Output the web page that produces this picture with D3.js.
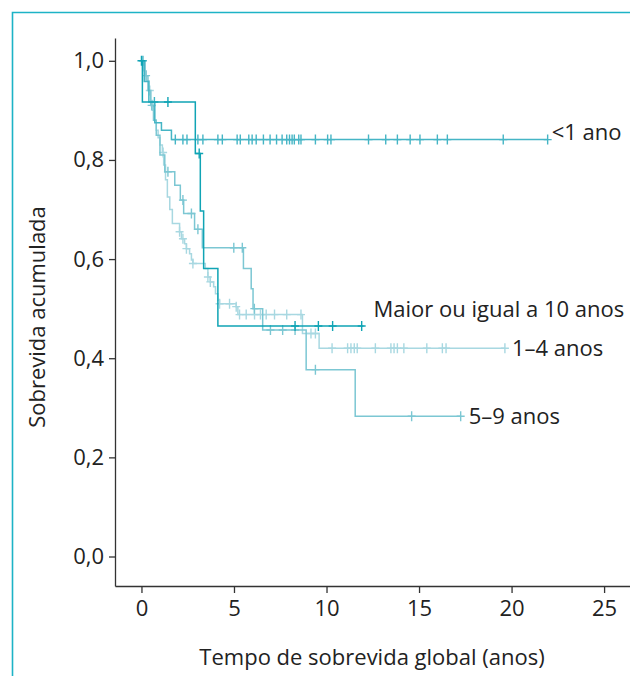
<!DOCTYPE html>
<html>
<head>
<meta charset="utf-8">
<script src="https://cdn.jsdelivr.net/npm/d3@7"></script>
<style>
    body { margin: 0; background: #fff; }
    text { font-family: "Open Sans", sans-serif; fill: #222; }
</style>
</head>
<body>
<div id="chart"></div>
<script>
// Kaplan-Meier steps: time (anos) and survival after each step
const lt1Times = [0, 0.15, 0.4, 0.72, 1.08, 1.62, 21.95];
const lt1Surv = [1.0, 0.958, 0.917, 0.875, 0.86, 0.841, 0.841];
const lt1Censor = [0.08, 0.7, 1.83, 2.24, 2.46, 3.05, 3.32, 4.13, 4.37, 5.17, 5.34, 5.8, 5.98, 6.2, 6.59,
    6.95, 7.3, 7.6, 7.85, 8.0, 8.14, 8.26, 8.5, 8.62, 9.4, 10.06, 10.24, 12.27, 13.2, 13.83, 14.52,
    15.05, 15.99, 16.53, 19.55, 21.95];

const ge10Times = [0, 0.05, 2.91, 3.18, 3.36, 4.13, 12.0];
const ge10Surv = [1.0, 0.917, 0.813, 0.697, 0.581, 0.465, 0.465];
const ge10Censor = [0.0, 1.43, 3.12, 8.3, 9.56, 10.33, 11.9];

const g14Times = [0, 0.1, 0.25, 0.4, 0.5, 0.6, 0.7, 0.8, 0.9, 1.0, 1.13, 1.2, 1.3, 1.4, 1.53, 1.67,
    2.06, 2.16, 2.33, 2.43, 2.6, 2.7, 2.78, 3.45, 3.59, 3.72, 3.9, 4.0, 4.13, 4.22, 5.12, 5.21,
    8.7, 9.6, 19.64];
const g14Surv = [1.0, 0.98, 0.96, 0.94, 0.92, 0.9, 0.88, 0.86, 0.845, 0.83, 0.815, 0.79, 0.76, 0.725,
    0.7, 0.672, 0.655, 0.641, 0.631, 0.621, 0.611, 0.598, 0.591, 0.581, 0.564, 0.554, 0.544, 0.53,
    0.517, 0.51, 0.504, 0.488, 0.45, 0.42, 0.42];
const g14Censor = [0.45, 1.17, 2.06, 2.24, 2.43, 2.78, 3.59, 3.72, 4.22, 4.76, 5.12, 5.3, 5.66, 6.11,
    6.43, 6.74, 7.19, 7.85, 8.62, 9.16, 9.4, 10.3, 11.14, 11.32, 11.5, 11.66, 12.64, 13.48, 13.65,
    13.83, 14.18, 15.42, 16.26, 16.46, 19.64];

const g59Times = [0, 0.2, 0.35, 0.5, 0.65, 0.8, 1.0, 1.26, 1.8, 2.1, 2.28, 2.87, 3.29, 5.51, 5.93,
    6.03, 6.55, 8.9, 11.55, 17.25];
const g59Surv = [1.0, 0.97, 0.94, 0.91, 0.88, 0.85, 0.81, 0.776, 0.749, 0.719, 0.692, 0.66, 0.623,
    0.581, 0.54, 0.5, 0.457, 0.377, 0.283, 0.283];
const g59Censor = [0.25, 0.55, 1.43, 2.24, 2.7, 3.05, 4.99, 5.45, 6.1, 6.97, 7.63, 8.3, 9.4, 14.6, 17.25];

const xTicks = [0, 5, 10, 15, 20, 25];
const yTicks = [0, 0.2, 0.4, 0.6, 0.8, 1.0];

const groups = [
    { name: "1–4 anos", times: g14Times, surv: g14Surv, censor: g14Censor, color: "#a8d8e1", dx: 7, dy: 0 },
    { name: "5–9 anos", times: g59Times, surv: g59Surv, censor: g59Censor, color: "#7cc7d3", dx: 8, dy: 0 },
    { name: "<1 ano", times: lt1Times, surv: lt1Surv, censor: lt1Censor, color: "#45b5c5", dx: 4, dy: -7 },
    { name: "Maior ou igual a 10 anos", times: ge10Times, surv: ge10Surv, censor: ge10Censor, color: "#10a4b5", dx: 10, dy: -17 }
];

const width = 630;
const height = 676;
const fontSize = 22;

const x = d3.scaleLinear()
    .domain([-1.43, 26.4])
    .range([115, 630]);

const y = d3.scaleLinear()
    .domain([-0.0595, 1.046])
    .range([586, 38]);

const svg = d3.create("svg")
    .attr("width", width)
    .attr("height", height)
    .attr("viewBox", [0, 0, width, height]);

d3.select("#chart").append(() => svg.node());

// teal frame
svg.append("path")
    .attr("d", "M12.5,676V12.5H630")
    .attr("fill", "none")
    .attr("stroke", "#1db3c6")
    .attr("stroke-width", 1.6);

const xAxis = g => g
    .attr("transform", `translate(0,${y.range()[0]})`)
    .call(d3.axisBottom(x).tickValues(xTicks).tickSize(7).tickSizeOuter(0).tickPadding(7))
    .call(g => g.selectAll("text").attr("font-size", fontSize).attr("font-family", "Open Sans"));

const yAxis = g => g
    .attr("transform", `translate(${x.range()[0]},0)`)
    .call(d3.axisLeft(y).tickValues(yTicks).tickSize(6).tickSizeOuter(0).tickPadding(5)
        .tickFormat(d => d3.format(".1f")(d).replace(".", ",")))
    .call(g => g.selectAll("text").attr("font-size", fontSize).attr("font-family", "Open Sans"));

svg.append("g").call(xAxis)
    .call(g => g.selectAll(".domain, line").attr("stroke", "#333").attr("stroke-width", 1.3));
svg.append("g").call(yAxis)
    .call(g => g.selectAll(".domain, line").attr("stroke", "#333").attr("stroke-width", 1.3));

const line = d3.line()
    .x(d => x(d[0]))
    .y(d => y(d[1]))
    .curve(d3.curveStepAfter);

const survAt = (g, t) => {
    const i = d3.bisectRight(g.times, t) - 1;
    return g.surv[Math.max(0, i)];
};

groups.forEach(g => {
    const pts = g.times.map((t, i) => [t, g.surv[i]]);
    svg.append("path")
        .datum(pts)
        .attr("fill", "none")
        .attr("stroke", g.color)
        .attr("stroke-width", 1.5)
        .attr("d", line);

    // censor marks
    svg.append("g")
        .attr("stroke", g.color)
        .attr("stroke-width", 1.4)
        .selectAll("path")
        .data(g.censor)
        .join("path")
            .attr("d", t => {
                const cx = x(t), cy = y(survAt(g, t));
                return `M${cx},${cy - 5}V${cy + 5}M${cx - 4},${cy}H${cx + 4}`;
            });

    const last = g.times.length - 1;
    svg.append("text")
        .attr("x", x(g.times[last]) + g.dx)
        .attr("y", y(g.surv[last]) + g.dy)
        .attr("dy", "0.35em")
        .attr("font-size", fontSize)
        .text(g.name);
});

svg.append("text")
    .attr("x", 372)
    .attr("y", 657)
    .attr("dy", "0.35em")
    .attr("text-anchor", "middle")
    .attr("font-size", fontSize)
    .text("Tempo de sobrevida global (anos)");

svg.append("text")
    .attr("transform", "rotate(-90)")
    .attr("x", -317)
    .attr("y", 37)
    .attr("dy", "0.35em")
    .attr("text-anchor", "middle")
    .attr("font-size", fontSize)
    .text("Sobrevida acumulada");
</script>
</body>
</html>
